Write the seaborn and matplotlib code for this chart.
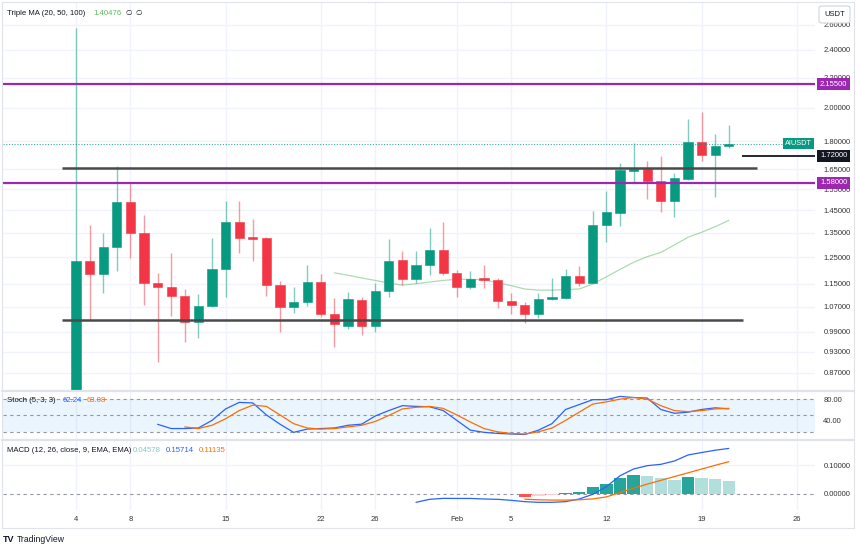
import numpy as np
import pandas as pd
import matplotlib
matplotlib.use("Agg")
import matplotlib.pyplot as plt
import matplotlib.transforms as mtrans
from matplotlib.ticker import FixedLocator, NullLocator, FuncFormatter
from matplotlib.lines import Line2D
from matplotlib.patches import FancyBboxPatch, Rectangle
import seaborn as sns

# ---------------- data ----------------
dates = pd.date_range("2024-01-04", "2024-02-21", freq="D")
opens = [0.800, 1.236, 1.187, 1.292, 1.489, 1.351, 1.152, 1.138, 1.107, 1.019,
         1.072, 1.204, 1.399, 1.331, 1.327, 1.146, 1.069, 1.085, 1.157, 1.046,
         1.008, 1.093, 1.008, 1.125, 1.240, 1.167, 1.221, 1.280, 1.191, 1.138,
         1.171, 1.163, 1.091, 1.076, 1.045, 1.097, 1.100, 1.180, 1.155, 1.383,
         1.438, 1.640, 1.653, 1.590, 1.494, 1.599, 1.799, 1.725, 1.776]
highs = [2.572, 1.384, 1.350, 1.668, 1.586, 1.428, 1.190, 1.267, 1.131, 1.114,
         1.327, 1.493, 1.493, 1.411, 1.334, 1.159, 1.139, 1.221, 1.185, 1.099,
         1.122, 1.105, 1.155, 1.325, 1.276, 1.276, 1.373, 1.396, 1.202, 1.198,
         1.221, 1.173, 1.119, 1.088, 1.117, 1.171, 1.204, 1.218, 1.446, 1.542,
         1.681, 1.790, 1.694, 1.720, 1.629, 1.930, 1.977, 1.843, 1.896]
lows = [0.780, 1.027, 1.118, 1.199, 1.247, 1.076, 0.899, 1.041, 0.959, 0.969,
        1.070, 1.105, 1.269, 1.237, 1.107, 0.988, 1.050, 1.073, 1.037, 0.942,
        0.999, 0.979, 0.990, 1.103, 1.145, 1.152, 1.183, 1.183, 1.105, 1.131,
        1.137, 1.068, 1.046, 1.018, 1.032, 1.095, 1.098, 1.141, 1.153, 1.311,
        1.381, 1.586, 1.501, 1.441, 1.421, 1.595, 1.694, 1.510, 1.764]
closes = [1.236, 1.187, 1.292, 1.489, 1.351, 1.152, 1.138, 1.107, 1.019, 1.074,
          1.204, 1.399, 1.327, 1.325, 1.146, 1.069, 1.088, 1.157, 1.046, 1.013,
          1.096, 1.008, 1.125, 1.236, 1.167, 1.221, 1.280, 1.191, 1.138, 1.168,
          1.163, 1.091, 1.076, 1.045, 1.097, 1.103, 1.179, 1.155, 1.383, 1.443,
          1.646, 1.653, 1.590, 1.494, 1.603, 1.799, 1.725, 1.776, 1.788]

# Triple MA (20) values, from Jan 23 on
ma20 = [1.191, 1.182, 1.172, 1.163, 1.153, 1.146, 1.151, 1.157, 1.163, 1.167,
        1.167, 1.165, 1.155, 1.144, 1.132, 1.128, 1.128, 1.130, 1.132, 1.150,
        1.176, 1.204, 1.231, 1.253, 1.270, 1.300, 1.332, 1.353, 1.377, 1.40476]

# Stoch (5,3,3)
stoch_k = [33.8, 26, 26, 27, 41, 62, 74, 73, 51, 34,
           19, 25, 26, 27, 32, 34, 49, 59, 68, 66.7,
           66, 59, 41, 23, 19, 17, 16, 15, 23, 35,
           61, 70, 79, 79, 85, 83, 82, 61, 54, 56,
           61, 64, 62.24]
stoch_d = [29, 26, 32, 44, 59, 69, 66.7, 51, 35, 27,
           25, 26, 29, 32, 39, 50, 62, 65, 66.7, 63,
           51, 38, 26, 20, 17, 16, 20, 27, 41, 56,
           71, 75, 80, 83, 80, 68, 59, 57, 59, 62,
           63.08]

# MACD (12, 26, close, 9)
macd_line = [-0.0287, -0.0184, -0.0150, -0.0153, -0.0153, -0.0172, -0.0184, -0.0218,
             -0.0264, -0.0287, -0.0287, -0.0264, -0.0172, -0.0010, 0.0253, 0.0630,
             0.0862, 0.0977, 0.1023, 0.1138, 0.1345, 0.1430, 0.1510, 0.15714]
macd_signal = [-0.018, -0.020, -0.021, -0.021, -0.020, -0.017, -0.010, 0.005,
               0.020, 0.034, 0.047, 0.060, 0.073, 0.086, 0.099, 0.11135]
macd_hist = [-0.0115, -0.006, -0.004, 0.002, 0.006, 0.023, 0.0345, 0.054,
             0.0655, 0.062, 0.054, 0.048, 0.060, 0.054, 0.052, 0.04578]

purple_levels = [2.155, 1.58]
black_upper = 1.656
black_short = 1.72
black_lower = 1.027
last_price = 1.788

price_ticks = [2.6, 2.4, 2.2, 2.0, 1.8, 1.65, 1.55, 1.45, 1.35, 1.25, 1.15, 1.07, 0.99, 0.93, 0.87]
date_ticks = ["2024-01-04", "2024-01-08", "2024-01-15", "2024-01-22", "2024-01-26",
              "2024-02-01", "2024-02-05", "2024-02-12", "2024-02-19", "2024-02-26"]
date_tick_labels = ["4", "8", "15", "22", "26", "Feb", "5", "12", "19", "26"]

# ---------------- style ----------------
sns.set_theme(style="white")
plt.rcParams['font.family'] = ['Liberation Sans', 'DejaVu Sans']

GREEN = "#089981"
RED = "#f23645"
PURPLE = "#9c27b0"
BLUE = "#2962ff"
ORANGE = "#ff6d00"
GRID = "#f0f3fa"
TXT = "#131722"
SEP = "#e0e3eb"

W, H = 856, 549
fig = plt.figure(figsize=(W / 100, H / 100), dpi=100)
fig.patch.set_facecolor("white")


def fx(p):
    return p / W


def fy(p):
    return 1 - p / H


L, R = 3, 815
ax = fig.add_axes([fx(L), fy(390), fx(R) - fx(L), fy(3) - fy(390)])
axs = fig.add_axes([fx(L), fy(439), fx(R) - fx(L), fy(392) - fy(439)])
axm = fig.add_axes([fx(L), fy(510), fx(R) - fx(L), fy(441) - fy(510)])

n = len(dates)
xi = np.arange(n)
start = dates[0]
tick_idx = [(pd.Timestamp(d) - start).days for d in date_ticks]
x_left = (L - 76) / 13.6
x_right = (R - 76) / 13.6

for a in (ax, axs, axm):
    a.set_facecolor("white")
    for s in a.spines.values():
        s.set_visible(False)
    a.set_xlim(x_left, x_right)
    for t in tick_idx:
        a.axvline(t, color=GRID, lw=1.0, zorder=0)
    a.yaxis.tick_right()
    a.tick_params(axis="y", length=0, pad=6, labelsize=5.5, colors="#333333")
    a.tick_params(axis="x", length=0)

# ---------------- main pane ----------------
ax.set_yscale("log")
ax.set_ylim(0.824, 2.782)
ax.yaxis.set_major_locator(FixedLocator(price_ticks))
ax.yaxis.set_minor_locator(NullLocator())
ax.yaxis.set_major_formatter(FuncFormatter(lambda v, p: f"{v:.5f}"))
ax.set_xticks([])
for t in price_ticks:
    ax.axhline(t, color=GRID, lw=1.0, zorder=0)

o = np.array(opens)
c = np.array(closes)
hi = np.array(highs)
lo = np.array(lows)
up = c >= o
cols = np.where(up, GREEN, RED)
ax.vlines(xi, lo, hi, colors=cols, lw=1.0, alpha=0.5, zorder=3)
bot = np.minimum(o, c)
top = np.maximum(np.maximum(o, c), bot * 1.006)
ax.bar(xi, top - bot, bottom=bot, width=0.68, color=cols, edgecolor=cols,
       linewidth=0.4, zorder=4)

ma_df = pd.DataFrame({"x": xi[n - len(ma20):], "ma": ma20})
sns.lineplot(data=ma_df, x="x", y="ma", ax=ax, color="#4caf50", alpha=0.45,
             lw=0.9, legend=False, zorder=2)
ax.set_xlabel("")
ax.set_ylabel("")

for lv in purple_levels:
    ax.axhline(lv, color=PURPLE, lw=1.6, zorder=5)
ax.hlines(black_upper, (62 - 76) / 13.6, (757 - 76) / 13.6, color="#4a4a4a", lw=1.8, zorder=5)
ax.hlines(black_lower, (62 - 76) / 13.6, (743 - 76) / 13.6, color="#4a4a4a", lw=1.8, zorder=5)
ax.hlines(black_short, (742 - 76) / 13.6, x_right, color=TXT, lw=1.3, zorder=5)
ax.hlines(last_price, x_left, (783 - 76) / 13.6, color=GREEN, lw=0.8,
          linestyles=(0, (1, 1.5)), alpha=0.8, zorder=5)

bt = mtrans.blended_transform_factory(ax.transAxes, ax.transData)
axw = R - L
for lv, fc in [(2.155, PURPLE), (1.58, PURPLE), (black_short, TXT)]:
    ax.text(1 + 5 / axw, lv, f"{lv:.5f}", transform=bt, ha="left", va="center",
            fontsize=5.5, color="white", clip_on=False, zorder=10,
            bbox=dict(boxstyle="square,pad=0.35", fc=fc, ec="none"))
ax.text(1 - 3 / axw, last_price, "AIUSDT", transform=bt, ha="right", va="center",
        fontsize=5.3, color="white", clip_on=False, zorder=10,
        bbox=dict(boxstyle="square,pad=0.3", fc=GREEN, ec="none"))

# ---------------- stoch pane ----------------
axs.axhspan(20, 80, color="#2196f3", alpha=0.09, lw=0, zorder=0)
for lv in (80, 50, 20):
    axs.axhline(lv, color="#9598a1", lw=0.8, ls=(0, (3, 3)), zorder=1)
k_df = pd.DataFrame({"x": xi[n - len(stoch_k):], "v": stoch_k})
d_df = pd.DataFrame({"x": xi[n - len(stoch_d):], "v": stoch_d})
sns.lineplot(data=k_df, x="x", y="v", ax=axs, color=BLUE, lw=0.9, legend=False, zorder=3)
sns.lineplot(data=d_df, x="x", y="v", ax=axs, color=ORANGE, lw=0.9, legend=False, zorder=3)
axs.set_ylim(6.8, 93.1)
axs.yaxis.set_major_locator(FixedLocator([80, 40]))
axs.yaxis.set_major_formatter(FuncFormatter(lambda v, p: f"{v:.2f}"))
axs.set_xticks([])
axs.set_xlabel("")
axs.set_ylabel("")

# ---------------- MACD pane ----------------
hx = xi[n - len(macd_hist):]
hv = np.array(macd_hist)
hcols = []
for i, v in enumerate(hv):
    prev = hv[i - 1] if i > 0 else v
    if v >= 0:
        hcols.append("#26a69a" if v >= prev else "#b2dfdb")
    else:
        hcols.append("#ff5252" if v <= prev else "#ffcdd2")
axm.bar(hx, hv, width=0.9, color=hcols, edgecolor="none", zorder=2)
axm.axhline(0, color="#9598a1", lw=0.8, ls=(0, (3, 3)), zorder=1)
axm.axhline(0.1, color=GRID, lw=1.0, zorder=0)
m_df = pd.DataFrame({"x": xi[n - len(macd_line):], "v": macd_line})
s_df = pd.DataFrame({"x": xi[n - len(macd_signal):], "v": macd_signal})
sns.lineplot(data=m_df, x="x", y="v", ax=axm, color=BLUE, lw=0.9, legend=False, zorder=3)
sns.lineplot(data=s_df, x="x", y="v", ax=axm, color=ORANGE, lw=0.9, legend=False, zorder=3)
axm.set_ylim(-0.0552, 0.1828)
axm.yaxis.set_major_locator(FixedLocator([0.1, 0.0]))
axm.yaxis.set_major_formatter(FuncFormatter(lambda v, p: f"{v:.5f}"))
axm.set_xticks(tick_idx)
axm.set_xticklabels(date_tick_labels)
axm.tick_params(axis="x", labelsize=5.5, colors="#333333", pad=4)
axm.set_xlabel("")
axm.set_ylabel("")

# ---------------- frame, separators ----------------
for yy in (391, 440):
    fig.add_artist(Line2D([fx(2), fx(854)], [fy(yy), fy(yy)], color=SEP, lw=1.6))
fig.add_artist(Rectangle((fx(2), fy(528)), fx(852), fy(2) - fy(528), fill=False,
                         ec=SEP, lw=0.8))

usdt = FancyBboxPatch((fx(819), fy(23)), fx(31), fy(6) - fy(23),
                      boxstyle="round,pad=0,rounding_size=0.004",
                      fc="white", ec="#d1d4dc", lw=0.8, zorder=20)
fig.add_artist(usdt)
fig.text(fx(834.5), fy(14.5), "USDT", ha="center", va="center", fontsize=5.5,
         color=TXT, zorder=21)

# ---------------- legends ----------------
fig.text(fx(7), fy(13.5), "Triple MA (20, 50, 100)", ha="left", va="center",
         fontsize=5.6, color=TXT)
fig.text(fx(93), fy(13.5), f"{ma20[-1]:.5f}", ha="left", va="center",
         fontsize=5.6, color="#5cb85c")
fig.text(fx(125), fy(13.5), "∅", ha="left", va="center", fontsize=5.4, color=TXT)
fig.text(fx(135), fy(13.5), "∅", ha="left", va="center", fontsize=5.4, color=TXT)

fig.text(fx(7), fy(400), "Stoch (5, 3, 3)", ha="left", va="center", fontsize=5.6, color=TXT)
fig.text(fx(63), fy(400), f"{stoch_k[-1]:.2f}", ha="left", va="center", fontsize=5.6, color=BLUE)
fig.text(fx(87), fy(400), f"{stoch_d[-1]:.2f}", ha="left", va="center", fontsize=5.6, color=ORANGE)

fig.text(fx(7), fy(450), "MACD (12, 26, close, 9, EMA, EMA)", ha="left", va="center",
         fontsize=5.6, color=TXT)
fig.text(fx(133), fy(450), f"{macd_hist[-1]:.5f}", ha="left", va="center", fontsize=5.6,
         color="#80cbc4")
fig.text(fx(166), fy(450), f"{macd_line[-1]:.5f}", ha="left", va="center", fontsize=5.6,
         color=BLUE)
fig.text(fx(199), fy(450), f"{macd_signal[-1]:.5f}", ha="left", va="center", fontsize=5.6,
         color=ORANGE)

fig.text(fx(3), fy(539), "TV", ha="left", va="center", fontsize=6.5, color=TXT,
         fontweight="heavy")
fig.text(fx(17), fy(539), "TradingView", ha="left", va="center", fontsize=6.2, color=TXT)

fig.savefig("out.png", dpi=100, facecolor="white")
